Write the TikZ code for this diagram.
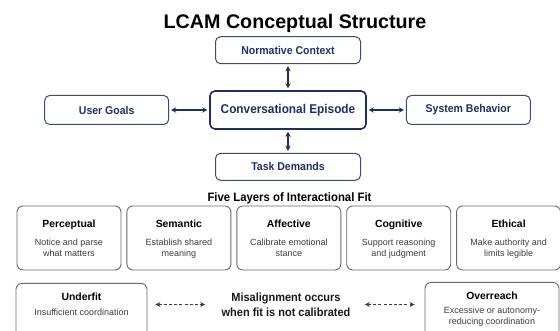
\documentclass[tikz,border=0pt]{standalone}
\usepackage{fontspec}
\setmainfont{Liberation Sans}
\newfontfamily\narrowfont[FakeStretch=0.93]{Liberation Sans}
\usetikzlibrary{positioning,arrows.meta}

\definecolor{navy}{RGB}{30,48,96}
\definecolor{navyline}{RGB}{62,76,108}
\definecolor{boxgray}{RGB}{105,105,105}
\definecolor{descgray}{RGB}{60,60,60}
\definecolor{dashgray}{RGB}{60,60,60}

\newcommand{\headfont}{\bfseries\fontsize{10.4}{12}\selectfont}

\begin{document}
\begin{tikzpicture}[x=1pt, y=-1pt,
					topbox/.style={draw=navyline, line width=1pt, rounded corners=5pt, text=navy, font=\narrowfont\bfseries\fontsize{11.3}{13}\selectfont, minimum width=145pt, minimum height=27pt},
					sidebox/.style={topbox, minimum width=124pt, minimum height=29pt},
					mainbox/.style={draw=navy, line width=1.6pt, rounded corners=5pt, text=navy, font=\narrowfont\bfseries\fontsize{12.7}{15}\selectfont, minimum width=156pt, minimum height=38pt},
					layerbox/.style={draw=boxgray, line width=0.9pt, rounded corners=6pt, align=center, minimum width=104pt, minimum height=64pt, inner sep=2pt, text=descgray, font=\fontsize{9}{11}\selectfont},
					fitbox/.style={draw=boxgray, line width=0.9pt, rounded corners=6pt, align=center, anchor=north, inner xsep=2pt, inner ysep=10pt, text=descgray, font=\fontsize{9}{10.5}\selectfont},
					biarrow/.style={{Stealth[length=5pt,width=5.5pt]}-{Stealth[length=5pt,width=5.5pt]}, line width=1.4pt, draw=navy, shorten <=2pt, shorten >=2pt},
					dasharrow/.style={{Stealth[length=5pt,width=5pt]}-{Stealth[length=5pt,width=5pt]}, line width=1.4pt, draw=dashgray, dash pattern=on 3pt off 2.2pt}]
					\useasboundingbox (0,0) rectangle (560,331);
					\clip (0,0) rectangle (560,331);

					\node[anchor=base, font=\bfseries\fontsize{19.7}{22}\selectfont] (title) at (295,28.6) {LCAM Conceptual Structure};

					% context around the episode
					\node[mainbox] (episode) at (288,110) {Conversational Episode};
					\node[topbox, above=26pt of episode] (norms) {Normative Context};
					\node[topbox, below=23pt of episode] (task) {Task Demands};
					\node[sidebox, left=40pt of episode] (goals) {User Goals};
					\node[sidebox, right=39pt of episode] (system) {System Behavior};

					\draw[biarrow] (norms) -- (episode);
					\draw[biarrow] (episode) -- (task);
					\draw[biarrow] (goals) -- (episode);
					\draw[biarrow] (episode) -- (system);

					% five layers
					\node[anchor=base, font=\narrowfont\bfseries\fontsize{12.2}{14}\selectfont] (layers) at (289.5,201.5) {Five Layers of Interactional Fit};
					\node[layerbox] (perceptual) at (69,238) {{\headfont\color{black}\rule{0pt}{11.5pt}Perceptual}\\[7pt]Notice and parse\\what matters\strut};
					\node[layerbox, right=5pt of perceptual] (semantic) {{\headfont\color{black}\rule{0pt}{11.5pt}Semantic}\\[7pt]Establish shared\\meaning\strut};
					\node[layerbox, right=5pt of semantic] (affective) {{\headfont\color{black}\rule{0pt}{11.5pt}Affective}\\[7pt]Calibrate emotional\\stance\strut};
					\node[layerbox, right=5pt of affective] (cognitive) {{\headfont\color{black}\rule{0pt}{11.5pt}Cognitive}\\[7pt]Support reasoning\\and judgment\strut};
					\node[layerbox, right=5pt of cognitive] (ethical) {{\headfont\color{black}\rule{0pt}{11.5pt}Ethical}\\[7pt]Make authority and\\limits legible\strut};

					% misfit
					\node[fitbox, minimum width=131pt] (underfit) at (81.5,283) {{\headfont\color{black}Underfit}\\[4pt]Insufficient coordination\rule[-30pt]{0pt}{0pt}};
					\node[fitbox, minimum width=134pt] (overreach) at (492,282) {{\headfont\color{black}Overreach}\\[3.5pt]Excessive or autonomy-\\reducing coordination\rule[-30pt]{0pt}{0pt}};
					\node[align=center, text={black!90}, font=\narrowfont\bfseries\fontsize{11.8}{15}\selectfont] (misfit) at (286,304.5) {Misalignment occurs\\when fit is not calibrated};

					\draw[dasharrow, shorten <=8pt, shorten >=13pt] (underfit.east |- misfit.west) -- (misfit.west);
					\draw[dasharrow, shorten <=11pt, shorten >=10pt] (misfit.east) -- (overreach.west |- misfit.east);
				\end{tikzpicture}
\end{document}
